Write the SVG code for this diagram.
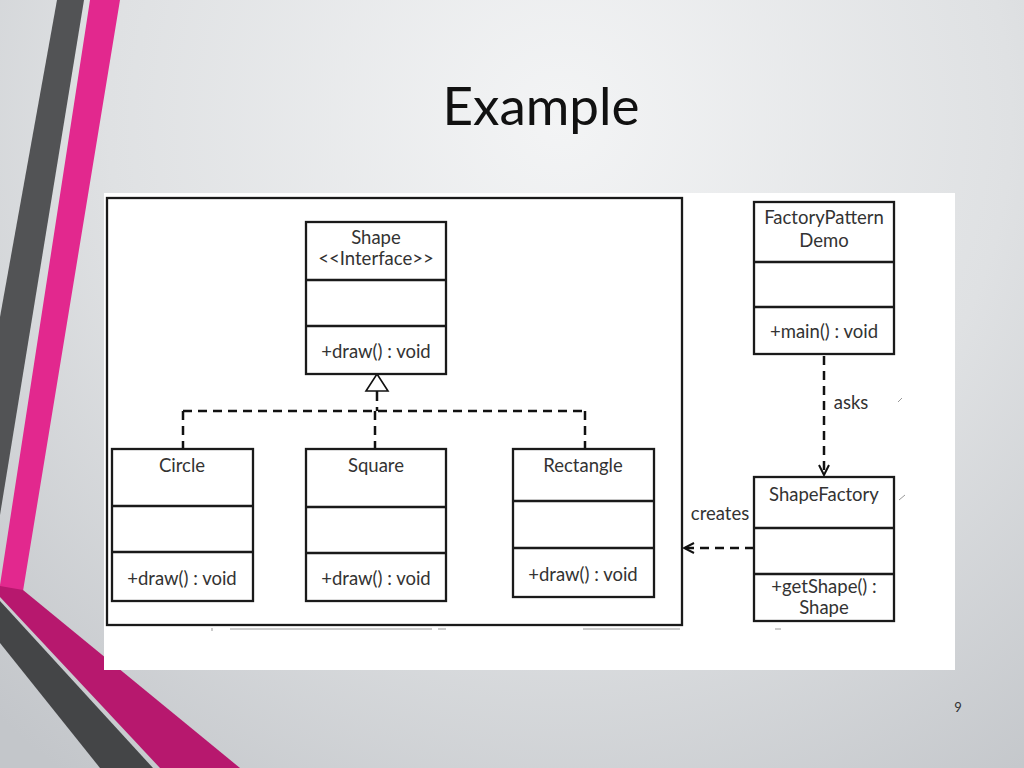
<svg xmlns="http://www.w3.org/2000/svg" width="1024" height="768" viewBox="0 0 1024 768">
<defs>
<radialGradient id="bg" cx="560" cy="120" r="820" gradientUnits="userSpaceOnUse">
<stop offset="0" stop-color="#f3f4f5"/>
<stop offset="0.55" stop-color="#dfe1e3"/>
<stop offset="1" stop-color="#c3c6ca"/>
</radialGradient>
<marker id="open" viewBox="0 0 12 12" refX="11" refY="6" markerWidth="12" markerHeight="12" markerUnits="userSpaceOnUse" orient="auto">
<path d="M1,1 L11,6 L1,11" fill="none" stroke="#111" stroke-width="2"/>
</marker>
<marker id="tri" viewBox="0 0 26 20" refX="13" refY="1" markerWidth="26" markerHeight="20" markerUnits="userSpaceOnUse" orient="0">
<path d="M13,1 L24,18 L2,18 Z" fill="#fff" stroke="#111" stroke-width="1.6"/>
</marker>
</defs>
<style>
.box{fill:#fff;stroke:#1a1a1a;stroke-width:2.3}
.div{stroke:#1a1a1a;stroke-width:2.3}
.t{font-family:Lato,"Open Sans","Liberation Sans",sans-serif;font-size:18.5px;fill:#333;text-anchor:middle}
.dash{fill:none;stroke:#111;stroke-width:2.5;stroke-dasharray:9,6}
</style>
<rect width="1024" height="768" fill="url(#bg)"/>
<!-- decorative bands -->
<polygon points="57,0 84,0 0,515 0,317" fill="#525355"/>
<polygon points="90,0 120,0 23,591 -4,590 0,585" fill="#e2288e"/>
<polygon points="0,586 23,590 240,768 160,768 0,597" fill="#b7186e"/>
<polygon points="0,601 153,768 100,768 0,643" fill="#444547"/>
<!-- title -->
<text x="541" y="125" font-family="Lato,'Open Sans','Liberation Sans',sans-serif" font-size="53" fill="#111" text-anchor="middle">Example</text>
<text x="958" y="712" font-family="Lato,'Open Sans','Liberation Sans',sans-serif" font-size="13" fill="#333" text-anchor="middle">9</text>
<!-- diagram canvas -->
<rect x="104" y="193" width="851" height="477" fill="#fff"/>
<rect x="107" y="198" width="575" height="427" fill="none" stroke="#1a1a1a" stroke-width="2.3"/>
<g id="marks" stroke="#999" stroke-width="1" fill="none">
<path d="M212,628 v3 M230,629 H432 M438,629 h8 M583,629 H680 M775,629 h6 M898,402 l4,-4 M899,500 l6,-5"/>
</g>
<g id="connectors">
<path class="dash" d="M377,392 V411 M183,411 H585 M183,411 V449 M375,411 V449 M585,411 V449"/>
<path class="dash" d="M377,374 V392" stroke="none" marker-start="url(#tri)"/>
<path class="dash" d="M824,356 V475" marker-end="url(#open)"/>
<path class="dash" d="M754,548 H684" marker-end="url(#open)"/>
<text class="t" x="851" y="409">asks</text>
<text class="t" x="720" y="520">creates</text>
</g>
<g id="shape">
<rect class="box" x="306" y="222" width="140" height="152"/>
<path class="div" d="M306,280 H446 M306,326 H446"/>
<text class="t" x="376" y="244">Shape</text>
<text class="t" x="376" y="265">&lt;&lt;Interface&gt;&gt;</text>
<text class="t" x="376" y="358">+draw() : void</text>
</g>
<g id="circle">
<rect class="box" x="112" y="449" width="141" height="152"/>
<path class="div" d="M112,506 H253 M112,552 H253"/>
<text class="t" x="182" y="472">Circle</text>
<text class="t" x="182" y="585">+draw() : void</text>
</g>
<g id="square">
<rect class="box" x="306" y="449" width="140" height="152"/>
<path class="div" d="M306,507 H446 M306,553 H446"/>
<text class="t" x="376" y="472">Square</text>
<text class="t" x="376" y="585">+draw() : void</text>
</g>
<g id="rectangle">
<rect class="box" x="513" y="449" width="141" height="148"/>
<path class="div" d="M513,501 H654 M513,548 H654"/>
<text class="t" x="583" y="472">Rectangle</text>
<text class="t" x="583" y="581">+draw() : void</text>
</g>
<g id="factorypatterndemo">
<rect class="box" x="754" y="202" width="140" height="152"/>
<path class="div" d="M754,262 H894 M754,307 H894"/>
<text class="t" x="824" y="224">FactoryPattern</text>
<text class="t" x="824" y="247">Demo</text>
<text class="t" x="824" y="338">+main() : void</text>
</g>
<g id="shapefactory">
<rect class="box" x="754" y="477" width="140" height="144"/>
<path class="div" d="M754,528 H894 M754,574 H894"/>
<text class="t" x="824" y="501">ShapeFactory</text>
<text class="t" x="824" y="593">+getShape() :</text>
<text class="t" x="824" y="614">Shape</text>
</g>
</svg>
